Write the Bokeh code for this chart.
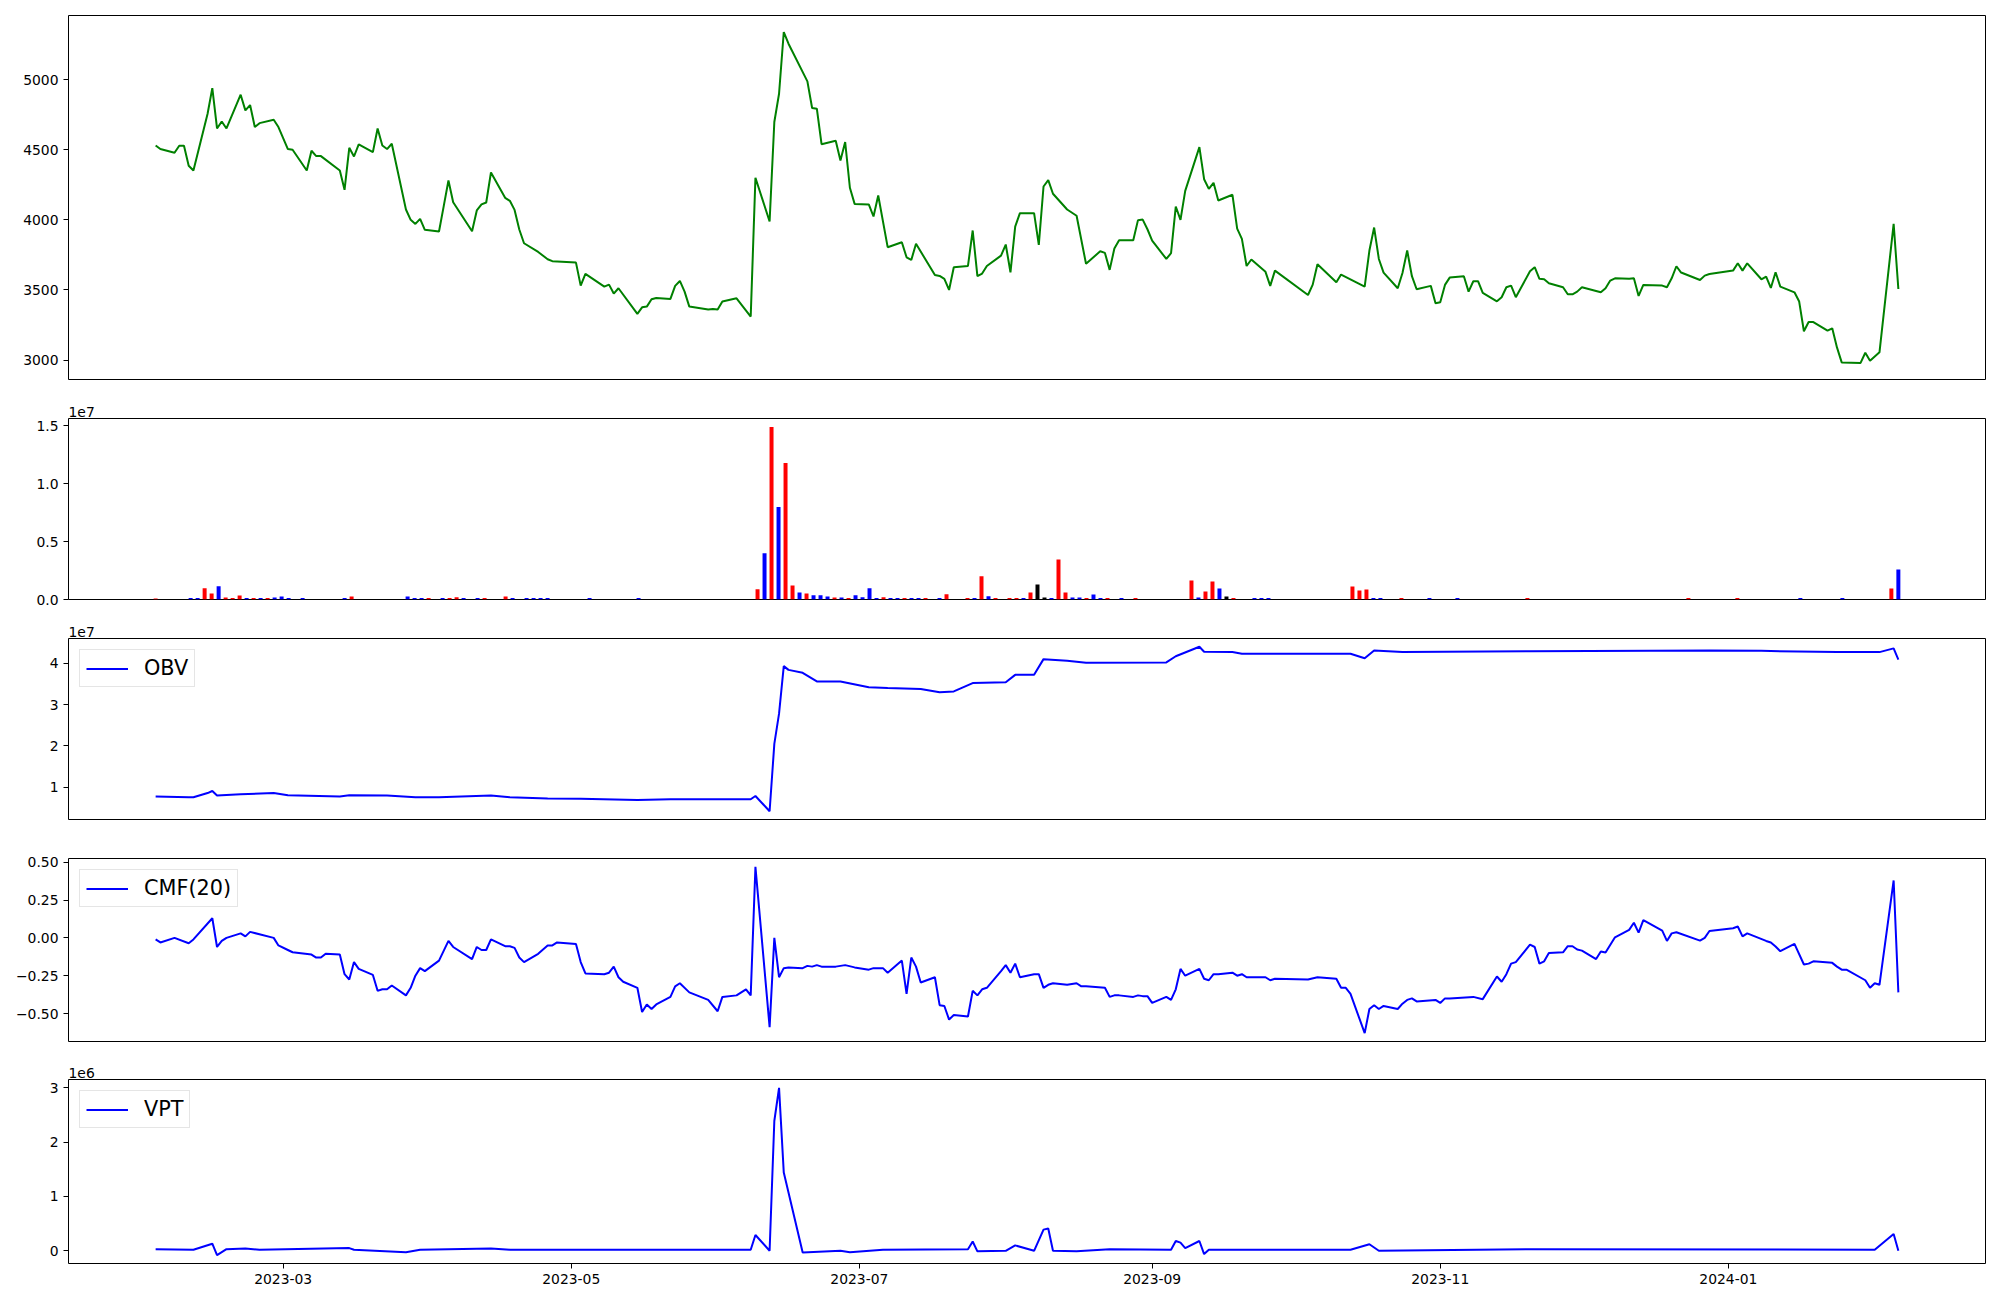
import pandas as pd
from bokeh.plotting import figure
from bokeh.layouts import column
from bokeh.models import (Range1d, FixedTicker, Legend, LegendItem, Title,
                          ColumnDataSource, CustomJSTickFormatter,
                          DatetimeTickFormatter, PrintfTickFormatter)
from bokeh.embed import file_html
from bokeh.resources import INLINE

# ---------------- trading calendar ----------------
session_first = "2023-02-02"
session_last = "2024-02-06"
market_holidays = ["2023-03-01", "2023-05-01", "2023-05-05", "2023-05-29", "2023-06-06",
                   "2023-08-15", "2023-09-28", "2023-09-29", "2023-10-02", "2023-10-03",
                   "2023-10-09", "2023-12-25", "2023-12-29", "2024-01-01"]

# ---------------- price (close) ----------------
price_dates = [
    "2023-02-02", "2023-02-03", "2023-02-06", "2023-02-07", "2023-02-08", "2023-02-09", "2023-02-10",
    "2023-02-13", "2023-02-14", "2023-02-15", "2023-02-16", "2023-02-17",
    "2023-02-20", "2023-02-21", "2023-02-22", "2023-02-23", "2023-02-24",
    "2023-02-27", "2023-02-28", "2023-03-02", "2023-03-03",
    "2023-03-06", "2023-03-07", "2023-03-08", "2023-03-09",
    "2023-03-13", "2023-03-14", "2023-03-15", "2023-03-16", "2023-03-17",
    "2023-03-20", "2023-03-21", "2023-03-22", "2023-03-23", "2023-03-24",
    "2023-03-27", "2023-03-28", "2023-03-29", "2023-03-30", "2023-03-31",
    "2023-04-03", "2023-04-04", "2023-04-05", "2023-04-06",
    "2023-04-10", "2023-04-11", "2023-04-12", "2023-04-13", "2023-04-14",
    "2023-04-17", "2023-04-18", "2023-04-19", "2023-04-20", "2023-04-21",
    "2023-04-24", "2023-04-26", "2023-04-27",
    "2023-05-02", "2023-05-03", "2023-05-04",
    "2023-05-08", "2023-05-09", "2023-05-10", "2023-05-11",
    "2023-05-15", "2023-05-16", "2023-05-17", "2023-05-18", "2023-05-19",
    "2023-05-22", "2023-05-23", "2023-05-24", "2023-05-25", "2023-05-26",
    "2023-05-30", "2023-05-31", "2023-06-01", "2023-06-02",
    "2023-06-05", "2023-06-08", "2023-06-09",
    "2023-06-12", "2023-06-13", "2023-06-14", "2023-06-15", "2023-06-16",
    "2023-06-20", "2023-06-21", "2023-06-22", "2023-06-23",
    "2023-06-26", "2023-06-27", "2023-06-28", "2023-06-29", "2023-06-30",
    "2023-07-03", "2023-07-04", "2023-07-05", "2023-07-07",
    "2023-07-10", "2023-07-11", "2023-07-12", "2023-07-13",
    "2023-07-17", "2023-07-18", "2023-07-19", "2023-07-20", "2023-07-21",
    "2023-07-24", "2023-07-25", "2023-07-26", "2023-07-27", "2023-07-28",
    "2023-07-31", "2023-08-01", "2023-08-02", "2023-08-03", "2023-08-04",
    "2023-08-07", "2023-08-08", "2023-08-09", "2023-08-10", "2023-08-11",
    "2023-08-14", "2023-08-16", "2023-08-18",
    "2023-08-21", "2023-08-22", "2023-08-23", "2023-08-24", "2023-08-25",
    "2023-08-28", "2023-08-29", "2023-08-30", "2023-08-31", "2023-09-01",
    "2023-09-04", "2023-09-05", "2023-09-06", "2023-09-07", "2023-09-08",
    "2023-09-11", "2023-09-12", "2023-09-13", "2023-09-14", "2023-09-15",
    "2023-09-18", "2023-09-19", "2023-09-20", "2023-09-21", "2023-09-22",
    "2023-09-25", "2023-09-26", "2023-09-27",
    "2023-10-04", "2023-10-05", "2023-10-06",
    "2023-10-10", "2023-10-11",
    "2023-10-16", "2023-10-17", "2023-10-18", "2023-10-19", "2023-10-20",
    "2023-10-23", "2023-10-24", "2023-10-25", "2023-10-26", "2023-10-27",
    "2023-10-30", "2023-10-31", "2023-11-01", "2023-11-02", "2023-11-03",
    "2023-11-06", "2023-11-07", "2023-11-08", "2023-11-09", "2023-11-10",
    "2023-11-13", "2023-11-14", "2023-11-15", "2023-11-16", "2023-11-17",
    "2023-11-20", "2023-11-21", "2023-11-22", "2023-11-23", "2023-11-24",
    "2023-11-27", "2023-11-28", "2023-11-29", "2023-11-30", "2023-12-01",
    "2023-12-05", "2023-12-06", "2023-12-07", "2023-12-08",
    "2023-12-11", "2023-12-12", "2023-12-13", "2023-12-14",
    "2023-12-18", "2023-12-19", "2023-12-20", "2023-12-21", "2023-12-22",
    "2023-12-26", "2023-12-27", "2023-12-28",
    "2024-01-02", "2024-01-03", "2024-01-04", "2024-01-05",
    "2024-01-08", "2024-01-09", "2024-01-10", "2024-01-11", "2024-01-12",
    "2024-01-15", "2024-01-16", "2024-01-17", "2024-01-18", "2024-01-19",
    "2024-01-22", "2024-01-23", "2024-01-24", "2024-01-25",
    "2024-01-29", "2024-01-30", "2024-01-31", "2024-02-02",
    "2024-02-05", "2024-02-06"]
price_close = [
    4531, 4505, 4479, 4529, 4529, 4386, 4352,
    4757, 4940, 4652, 4702, 4652,
    4893, 4781, 4819, 4662, 4690,
    4714, 4662, 4505, 4500,
    4352, 4493, 4455, 4455,
    4352, 4214, 4514, 4452, 4538,
    4483, 4652, 4531, 4505, 4543,
    4074, 4000, 3971, 4007, 3929,
    3917, 4098, 4281, 4126,
    3919, 4067, 4110, 4124, 4338,
    4157, 4136, 4071, 3931, 3833,
    3771, 3719, 3705,
    3695, 3531, 3614,
    3524, 3538, 3474, 3512,
    3329, 3376, 3381, 3433, 3443,
    3436, 3529, 3564, 3488, 3381,
    3360, 3364, 3360, 3417,
    3440, 3310, 4300,
    3988, 4698, 4900, 5340, 5257,
    4988, 4798, 4793, 4540,
    4564, 4424, 4555, 4229, 4114,
    4110, 4024, 4174, 3805,
    3840, 3733, 3714, 3829,
    3607, 3600, 3579, 3500, 3662,
    3671, 3924, 3598, 3617, 3671,
    3745, 3824, 3626, 3952, 4048,
    4048, 3821, 4238, 4283, 4186,
    4074, 4029, 3686,
    3776, 3764, 3643, 3795, 3855,
    3855, 3998, 4002, 3933, 3852,
    3721, 3762, 4095, 4000, 4207,
    4519, 4290, 4221, 4264, 4138,
    4179, 3938, 3864, 3671, 3717,
    3629, 3529, 3638,
    3464, 3538, 3683,
    3555, 3610,
    3524, 3781, 3945, 3721, 3624,
    3512, 3621, 3781, 3598, 3505,
    3529, 3405, 3412, 3536, 3588,
    3598, 3488, 3562, 3562, 3479,
    3419, 3448, 3519, 3531, 3448,
    3633, 3662, 3579, 3576, 3548,
    3519, 3469, 3469, 3488, 3519,
    3483, 3512, 3567, 3583,
    3579, 3583, 3457, 3536,
    3531, 3519, 3583, 3669, 3624,
    3571, 3602, 3614,
    3638, 3690, 3638, 3690,
    3576, 3595, 3514, 3626, 3524,
    3483, 3417, 3205, 3271, 3271,
    3209, 3226, 3090, 2983,
    2979, 3052, 2995, 3055,
    3971, 3507]
price_ticks = [3000, 3500, 4000, 4500, 5000]

# ---------------- volume (units of 1e7) ----------------
vol_dates = [
    "2023-02-02", "2023-02-09", "2023-02-10", "2023-02-13", "2023-02-14", "2023-02-15", "2023-02-16",
    "2023-02-17", "2023-02-20", "2023-02-21", "2023-02-22", "2023-02-23", "2023-02-24", "2023-02-27",
    "2023-02-28", "2023-03-02", "2023-03-06", "2023-03-14", "2023-03-15", "2023-03-27", "2023-03-28",
    "2023-03-29", "2023-03-30", "2023-04-03", "2023-04-04", "2023-04-05", "2023-04-06", "2023-04-10",
    "2023-04-11", "2023-04-14", "2023-04-17", "2023-04-19", "2023-04-20", "2023-04-21", "2023-04-24",
    "2023-05-03", "2023-05-15",
    "2023-06-09", "2023-06-12", "2023-06-13", "2023-06-14", "2023-06-15", "2023-06-16", "2023-06-19",
    "2023-06-20", "2023-06-21", "2023-06-22", "2023-06-23", "2023-06-26", "2023-06-27", "2023-06-28",
    "2023-06-29", "2023-06-30", "2023-07-03", "2023-07-04", "2023-07-05", "2023-07-06", "2023-07-07",
    "2023-07-10", "2023-07-11", "2023-07-12", "2023-07-13", "2023-07-17", "2023-07-18", "2023-07-21",
    "2023-07-24", "2023-07-25", "2023-07-26", "2023-07-27", "2023-07-31", "2023-08-01", "2023-08-02",
    "2023-08-03", "2023-08-04", "2023-08-07", "2023-08-08", "2023-08-09", "2023-08-10", "2023-08-11",
    "2023-08-14", "2023-08-16", "2023-08-17", "2023-08-18", "2023-08-21", "2023-08-23", "2023-08-25",
    "2023-09-06", "2023-09-07", "2023-09-08", "2023-09-11", "2023-09-12", "2023-09-13", "2023-09-14",
    "2023-09-19", "2023-09-20", "2023-09-21",
    "2023-10-16", "2023-10-17", "2023-10-18", "2023-10-19", "2023-10-20", "2023-10-25", "2023-10-31",
    "2023-11-06", "2023-11-20", "2023-12-21", "2024-01-04", "2024-01-17", "2024-01-25", "2024-02-05",
    "2024-02-06"]
volume_1e7 = [
    0.009, 0.012, 0.012, 0.098, 0.052, 0.115, 0.017,
    0.012, 0.035, 0.012, 0.012, 0.012, 0.012, 0.017,
    0.026, 0.012, 0.012, 0.012, 0.026, 0.026, 0.012,
    0.012, 0.012, 0.012, 0.012, 0.020, 0.012, 0.012,
    0.012, 0.026, 0.012, 0.012, 0.012, 0.012, 0.012,
    0.012, 0.012,
    0.089, 0.40, 1.49, 0.80, 1.18, 0.12, 0.060,
    0.052, 0.037, 0.037, 0.026, 0.017, 0.017, 0.012,
    0.037, 0.020, 0.098, 0.012, 0.020, 0.012, 0.012,
    0.012, 0.012, 0.012, 0.012, 0.012, 0.046, 0.012,
    0.012, 0.20, 0.029, 0.012, 0.012, 0.012, 0.012,
    0.060, 0.13, 0.017, 0.012, 0.346, 0.060, 0.017,
    0.017, 0.012, 0.043, 0.012, 0.012, 0.012, 0.012,
    0.164, 0.017, 0.069, 0.156, 0.095, 0.026, 0.012,
    0.012, 0.012, 0.012,
    0.112, 0.078, 0.086, 0.012, 0.012, 0.012, 0.012,
    0.012, 0.012, 0.012, 0.012, 0.012, 0.012, 0.095,
    0.26]
vol_kind = [
    "r", "b", "b", "r", "r", "b", "r",
    "r", "r", "b", "r", "b", "r", "b",
    "b", "b", "b", "b", "r", "b", "b",
    "b", "r", "b", "r", "r", "b", "b",
    "r", "r", "b", "b", "b", "b", "b",
    "b", "b",
    "r", "b", "r", "b", "r", "r", "b",
    "r", "b", "b", "b", "r", "b", "r",
    "b", "b", "b", "b", "r", "b", "b",
    "r", "b", "b", "r", "b", "r", "r",
    "b", "r", "b", "r", "r", "r", "b",
    "r", "k", "k", "b", "r", "r", "b",
    "b", "r", "b", "b", "r", "b", "r",
    "r", "b", "r", "r", "b", "k", "r",
    "b", "b", "b",
    "r", "r", "r", "b", "b", "r", "b",
    "b", "r", "r", "r", "b", "b", "r",
    "b"]
vol_colors = {"r": "red", "b": "blue", "k": "black"}
vol_ticks = [0.0, 0.5, 1.0, 1.5]

# ---------------- OBV (units of 1e7) ----------------
obv_dates = [
    "2023-02-02", "2023-02-09", "2023-02-10", "2023-02-13", "2023-02-14", "2023-02-15", "2023-02-20",
    "2023-02-27", "2023-03-02", "2023-03-13", "2023-03-15", "2023-03-23", "2023-03-29", "2023-04-03",
    "2023-04-14", "2023-04-18", "2023-04-26", "2023-05-03", "2023-05-15", "2023-05-22", "2023-06-08",
    "2023-06-09", "2023-06-12", "2023-06-13", "2023-06-14", "2023-06-15", "2023-06-16", "2023-06-19",
    "2023-06-22", "2023-06-27", "2023-07-03", "2023-07-07", "2023-07-14", "2023-07-18", "2023-07-21",
    "2023-07-25", "2023-08-01", "2023-08-03", "2023-08-07", "2023-08-09", "2023-08-14", "2023-08-18",
    "2023-09-04", "2023-09-06", "2023-09-11", "2023-09-12", "2023-09-18", "2023-09-20", "2023-10-13",
    "2023-10-16", "2023-10-18", "2023-10-24", "2023-11-20", "2023-12-28", "2024-01-08", "2024-01-24",
    "2024-02-02", "2024-02-05", "2024-02-06"]
obv_1e7 = [
    0.78, 0.76, 0.76, 0.86, 0.91, 0.80, 0.83,
    0.86, 0.81, 0.78, 0.81, 0.80, 0.76, 0.76,
    0.80, 0.76, 0.73, 0.72, 0.69, 0.71, 0.71,
    0.79, 0.42, 2.05, 2.78, 3.93, 3.84, 3.77,
    3.56, 3.56, 3.42, 3.40, 3.38, 3.30, 3.32,
    3.52, 3.54, 3.72, 3.72, 4.10, 4.06, 4.01,
    4.02, 4.17, 4.40, 4.28, 4.27, 4.23, 4.23,
    4.12, 4.31, 4.27, 4.29, 4.31, 4.30, 4.27,
    4.27, 4.36, 4.09]
obv_ticks = [1, 2, 3, 4]

# ---------------- CMF(20) ----------------
cmf_dates = [
    "2023-02-02", "2023-02-03", "2023-02-06", "2023-02-09", "2023-02-10", "2023-02-14", "2023-02-15", "2023-02-16", "2023-02-17",
    "2023-02-20", "2023-02-21", "2023-02-22", "2023-02-27", "2023-02-28", "2023-03-02", "2023-03-03",
    "2023-03-07", "2023-03-08", "2023-03-09", "2023-03-10", "2023-03-13", "2023-03-14", "2023-03-15", "2023-03-16", "2023-03-17",
    "2023-03-20", "2023-03-21", "2023-03-22", "2023-03-23", "2023-03-24", "2023-03-27", "2023-03-28", "2023-03-29", "2023-03-30", "2023-03-31",
    "2023-04-03", "2023-04-05", "2023-04-06", "2023-04-10", "2023-04-11", "2023-04-12", "2023-04-13", "2023-04-14",
    "2023-04-17", "2023-04-18", "2023-04-19", "2023-04-20", "2023-04-21", "2023-04-24", "2023-04-26", "2023-04-27", "2023-04-28",
    "2023-05-02", "2023-05-03", "2023-05-04", "2023-05-08", "2023-05-09", "2023-05-10", "2023-05-11", "2023-05-12",
    "2023-05-15", "2023-05-16", "2023-05-17", "2023-05-18", "2023-05-19", "2023-05-22", "2023-05-23", "2023-05-24", "2023-05-26",
    "2023-05-30", "2023-06-01", "2023-06-02", "2023-06-05", "2023-06-07", "2023-06-08", "2023-06-09",
    "2023-06-12", "2023-06-13", "2023-06-14", "2023-06-15", "2023-06-16", "2023-06-19", "2023-06-20", "2023-06-21", "2023-06-22", "2023-06-23",
    "2023-06-26", "2023-06-28", "2023-06-30", "2023-07-03", "2023-07-04", "2023-07-06", "2023-07-07",
    "2023-07-10", "2023-07-11", "2023-07-12", "2023-07-13", "2023-07-14", "2023-07-17", "2023-07-18", "2023-07-19", "2023-07-20", "2023-07-21",
    "2023-07-24", "2023-07-25", "2023-07-26", "2023-07-27", "2023-07-28", "2023-07-31", "2023-08-01", "2023-08-02", "2023-08-03", "2023-08-04",
    "2023-08-07", "2023-08-08", "2023-08-09", "2023-08-10", "2023-08-11", "2023-08-14", "2023-08-16", "2023-08-17", "2023-08-18",
    "2023-08-22", "2023-08-23", "2023-08-24", "2023-08-25", "2023-08-28", "2023-08-29", "2023-08-30", "2023-08-31", "2023-09-01",
    "2023-09-04", "2023-09-05", "2023-09-06", "2023-09-07", "2023-09-08", "2023-09-11", "2023-09-12", "2023-09-13", "2023-09-14", "2023-09-15",
    "2023-09-18", "2023-09-19", "2023-09-20", "2023-09-21", "2023-09-25", "2023-09-26", "2023-09-27",
    "2023-10-04", "2023-10-06", "2023-10-10", "2023-10-11", "2023-10-12", "2023-10-13",
    "2023-10-16", "2023-10-17", "2023-10-18", "2023-10-19", "2023-10-20", "2023-10-23", "2023-10-24", "2023-10-25", "2023-10-26", "2023-10-27",
    "2023-10-31", "2023-11-01", "2023-11-02", "2023-11-03", "2023-11-08", "2023-11-10",
    "2023-11-13", "2023-11-14", "2023-11-15", "2023-11-16", "2023-11-17", "2023-11-20", "2023-11-21", "2023-11-22", "2023-11-23", "2023-11-24",
    "2023-11-27", "2023-11-28", "2023-11-29", "2023-11-30", "2023-12-01", "2023-12-04", "2023-12-05", "2023-12-06", "2023-12-08",
    "2023-12-11", "2023-12-12", "2023-12-13", "2023-12-14", "2023-12-18", "2023-12-19", "2023-12-20", "2023-12-21",
    "2023-12-26", "2023-12-27", "2023-12-28", "2024-01-02", "2024-01-03", "2024-01-04", "2024-01-05",
    "2024-01-09", "2024-01-10", "2024-01-11", "2024-01-12", "2024-01-15", "2024-01-17", "2024-01-18", "2024-01-19",
    "2024-01-23", "2024-01-24", "2024-01-25", "2024-01-26", "2024-01-30", "2024-01-31", "2024-02-01", "2024-02-02", "2024-02-05", "2024-02-06"]
cmf_values = [
    -0.01, -0.03, 0.00, -0.035, -0.01, 0.13, -0.06, -0.02, 0.0,
    0.03, 0.01, 0.04, 0.0, -0.05, -0.08, -0.095,
    -0.11, -0.13, -0.13, -0.105, -0.11, -0.24, -0.275, -0.16, -0.205,
    -0.245, -0.35, -0.34, -0.34, -0.315, -0.38, -0.33, -0.25, -0.20, -0.22,
    -0.15, -0.02, -0.06, -0.14, -0.06, -0.08, -0.08, -0.01,
    -0.055, -0.055, -0.066, -0.13, -0.16, -0.105, -0.05, -0.05, -0.03,
    -0.04, -0.16, -0.235, -0.24, -0.23, -0.19, -0.26, -0.29,
    -0.33, -0.49, -0.44, -0.47, -0.44, -0.39, -0.32, -0.30, -0.36,
    -0.41, -0.485, -0.39, -0.38, -0.34, -0.38, 0.47,
    -0.59, 0.0, -0.26, -0.20, -0.195, -0.20, -0.185, -0.19, -0.18, -0.19,
    -0.19, -0.18, -0.195, -0.21, -0.20, -0.20, -0.23,
    -0.15, -0.37, -0.13, -0.19, -0.295, -0.26, -0.445, -0.45, -0.54, -0.51,
    -0.52, -0.35, -0.38, -0.34, -0.33, -0.22, -0.18, -0.23, -0.17, -0.26,
    -0.24, -0.24, -0.33, -0.31, -0.30, -0.31, -0.30, -0.32, -0.32,
    -0.33, -0.39, -0.38, -0.38, -0.39, -0.38, -0.385, -0.385, -0.43,
    -0.39, -0.41, -0.34, -0.205, -0.25, -0.205, -0.27, -0.28, -0.24, -0.24,
    -0.23, -0.25, -0.24, -0.26, -0.26, -0.28, -0.27,
    -0.275, -0.26, -0.27, -0.33, -0.33, -0.37,
    -0.63, -0.47, -0.445, -0.47, -0.45, -0.47, -0.435, -0.41, -0.40, -0.42,
    -0.41, -0.43, -0.40, -0.40, -0.39, -0.405,
    -0.255, -0.29, -0.24, -0.17, -0.16, -0.045, -0.06, -0.17, -0.155, -0.10,
    -0.095, -0.055, -0.055, -0.077, -0.084, -0.14, -0.09, -0.097, 0.004,
    0.053, 0.10, 0.035, 0.117, 0.048, -0.02, 0.03, 0.037,
    -0.018, 0.0, 0.046, 0.064, 0.075, 0.01, 0.03,
    -0.02, -0.03, -0.057, -0.088, -0.04, -0.176, -0.17, -0.155,
    -0.165, -0.19, -0.21, -0.21, -0.28, -0.33, -0.30, -0.31, 0.38, -0.36]
cmf_ticks = [-0.5, -0.25, 0.0, 0.25, 0.5]

# ---------------- VPT (units of 1e6) ----------------
vpt_dates = [
    "2023-02-02", "2023-02-10", "2023-02-14", "2023-02-15", "2023-02-17", "2023-02-21", "2023-02-24",
    "2023-03-15", "2023-03-16", "2023-03-27", "2023-03-30", "2023-04-05", "2023-04-14", "2023-04-18",
    "2023-06-08", "2023-06-09", "2023-06-12", "2023-06-13", "2023-06-14", "2023-06-15", "2023-06-19",
    "2023-06-27", "2023-06-29", "2023-07-06", "2023-07-24", "2023-07-25", "2023-07-26", "2023-08-01",
    "2023-08-03", "2023-08-07", "2023-08-09", "2023-08-10", "2023-08-11", "2023-08-16", "2023-08-23",
    "2023-09-05", "2023-09-06", "2023-09-07", "2023-09-08", "2023-09-11", "2023-09-12", "2023-09-13",
    "2023-10-13", "2023-10-17", "2023-10-19", "2023-11-20", "2024-02-01", "2024-02-05", "2024-02-06"]
vpt_1e6 = [
    0.03, 0.02, 0.13, -0.08, 0.03, 0.04, 0.02,
    0.05, 0.02, -0.025, 0.02, 0.03, 0.04, 0.02,
    0.02, 0.29, 0.0, 2.39, 3.0, 1.44, -0.03,
    0.0, -0.025, 0.02, 0.03, 0.17, -0.01, 0.0,
    0.10, 0.0, 0.39, 0.41, 0.0, -0.01, 0.03,
    0.02, 0.18, 0.15, 0.05, 0.18, -0.06, 0.02,
    0.02, 0.12, 0.0, 0.03, 0.02, 0.31, 0.0]
vpt_ticks = [0, 1, 2, 3]

date_tick_labels = ["2023-03-01", "2023-05-01", "2023-07-01", "2023-09-01", "2023-11-01", "2024-01-01"]

# ---------------- helpers ----------------
FONT = "DejaVu Sans"
W = 1992
LEFT = 68
RIGHT = 7


def ms(d):
    return (pd.Timestamp(d) - pd.Timestamp("1970-01-01")) / pd.Timedelta(milliseconds=1)


trade_days = [d.strftime("%Y-%m-%d") for d in pd.bdate_range(session_first, session_last)
              if d.strftime("%Y-%m-%d") not in market_holidays]
day_pos = {d: i for i, d in enumerate(trade_days)}

t0, t1 = ms(trade_days[0]), ms(trade_days[-1])
tpad = 0.05 * (t1 - t0)
date_range = Range1d(t0 - tpad, t1 + tpad)


def padded(vals):
    lo, hi = min(vals), max(vals)
    m = 0.05 * (hi - lo)
    return Range1d(lo - m, hi + m)


def make_fig(h, top, bottom, x_range, y_range, x_type="datetime"):
    p = figure(width=W, height=h, x_range=x_range, y_range=y_range, x_axis_type=x_type,
               output_backend="svg", toolbar_location=None,
               min_border_left=LEFT, min_border_right=RIGHT,
               min_border_top=top, min_border_bottom=bottom)
    p.outline_line_color = "black"
    p.outline_line_width = 1
    p.outline_line_alpha = 1
    p.xgrid.visible = False
    p.ygrid.visible = False
    p.background_fill_color = "white"
    p.border_fill_color = "white"
    return p


def style_axis(ax, ticks, fmt):
    ax.ticker = FixedTicker(ticks=ticks)
    ax.formatter = fmt
    ax.axis_line_color = None
    ax.major_tick_out = 5
    ax.major_tick_in = 0
    ax.minor_tick_out = 0
    ax.minor_tick_in = 0
    ax.major_tick_line_color = "black"
    ax.major_tick_line_width = 1
    ax.major_label_text_font = FONT
    ax.major_label_text_font_size = "13.9px"
    ax.major_label_text_color = "black"
    ax.major_label_standoff = 5


def offset_title(p, text):
    p.add_layout(Title(text=text, align="left", offset=0, standoff=3,
                       text_font=FONT, text_font_size="13.9px", text_font_style="normal",
                       text_color="black"), "above")


def add_legend(p, renderer, text):
    leg = Legend(items=[LegendItem(label=text, renderers=[renderer])], location="top_left",
                 margin=11, padding=6, spacing=0, glyph_width=42, glyph_height=21,
                 label_height=21, label_standoff=16, label_text_font=FONT,
                 label_text_font_size="20.8px", label_text_color="black",
                 border_line_color="#cccccc", border_line_width=1,
                 background_fill_color="white", background_fill_alpha=0.8)
    p.add_layout(leg)


# ---------------- panel 1: price ----------------
p1 = make_fig(398, 15, 19, date_range, padded(price_close))
p1.line(x=pd.to_datetime(price_dates), y=price_close, line_color="green", line_width=2)
p1.xaxis.visible = False
style_axis(p1.yaxis[0], price_ticks, PrintfTickFormatter(format="%d"))

# ---------------- panel 2: volume (plotted by session number) ----------------
n_days = len(trade_days)
vol_xr = Range1d(-0.05 * (n_days - 1), (n_days - 1) * 1.05)
p2 = make_fig(220, 20, 19, vol_xr, Range1d(0, max(volume_1e7) * 1.05), x_type="linear")
vsrc = ColumnDataSource(dict(x=[day_pos[d] for d in vol_dates], top=volume_1e7,
                             color=[vol_colors[k] for k in vol_kind]))
p2.vbar(x="x", top="top", bottom=0, width=0.57, fill_color="color", line_color=None, source=vsrc)
p2.xaxis.visible = False
style_axis(p2.yaxis[0], vol_ticks, PrintfTickFormatter(format="%.1f"))
offset_title(p2, "1e7")

# ---------------- panel 3: OBV ----------------
p3 = make_fig(220, 20, 19, date_range, padded(obv_1e7))
r3 = p3.line(x=pd.to_datetime(obv_dates), y=obv_1e7, line_color="blue", line_width=2)
p3.xaxis.visible = False
style_axis(p3.yaxis[0], obv_ticks, PrintfTickFormatter(format="%d"))
offset_title(p3, "1e7")
add_legend(p3, r3, "OBV")

# ---------------- panel 4: CMF ----------------
p4 = make_fig(221, 20, 18, date_range, padded(cmf_values))
r4 = p4.line(x=pd.to_datetime(cmf_dates), y=cmf_values, line_color="blue", line_width=2)
p4.xaxis.visible = False
style_axis(p4.yaxis[0], cmf_ticks, CustomJSTickFormatter(
    code="return (tick < -1e-9 ? '\u2212' : '') + Math.abs(tick).toFixed(2);"))
add_legend(p4, r4, "CMF(20)")

# ---------------- panel 5: VPT ----------------
p5 = make_fig(233, 20, 29, date_range, padded(vpt_1e6))
r5 = p5.line(x=pd.to_datetime(vpt_dates), y=vpt_1e6, line_color="blue", line_width=2)
style_axis(p5.yaxis[0], vpt_ticks, PrintfTickFormatter(format="%d"))
fmt = "%Y-%m"
style_axis(p5.xaxis[0], [ms(d) for d in date_tick_labels],
           DatetimeTickFormatter(years=fmt, months=fmt, days=fmt, hours=fmt, hourmin=fmt,
                                 minutes=fmt, minsec=fmt, seconds=fmt, milliseconds=fmt,
                                 microseconds=fmt))
offset_title(p5, "1e6")
add_legend(p5, r5, "VPT")

layout = column(p1, p2, p3, p4, p5, spacing=0)
open("out.html", "w").write(file_html(layout, INLINE))
